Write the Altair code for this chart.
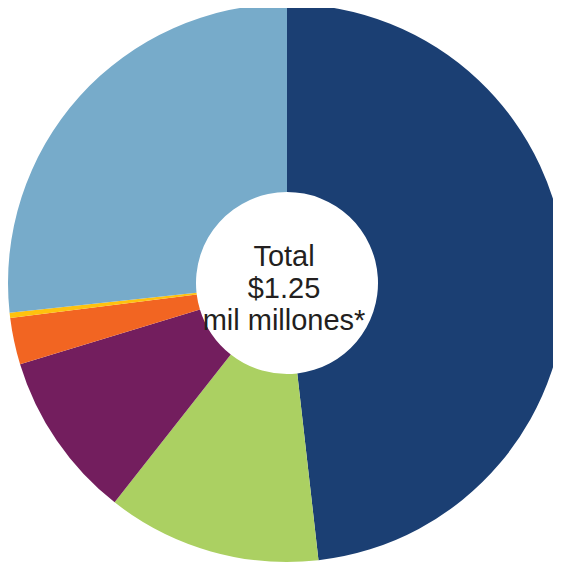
import altair as alt
import pandas as pd

categories = ["A", "B", "C", "D", "E", "F"]
shares = [48.2, 12.4, 9.7, 2.7, 0.3, 26.7]
colors = ["#1B3F73", "#ABD062", "#731E5E", "#F26522", "#FFC20E", "#77ABCA"]
center_lines = ["Total", "$1.25", "mil millones*"]

df = pd.DataFrame({"cat": categories, "share": shares, "order": list(range(len(categories)))})

pie = alt.Chart(df).mark_arc(radius=279, innerRadius=91).encode(
    theta=alt.Theta("share:Q", stack=True),
    color=alt.Color("cat:N", scale=alt.Scale(domain=categories, range=colors), legend=None),
    order=alt.Order("order:Q"),
    x=alt.value(279),
    y=alt.value(275),
)

txt_df = pd.DataFrame({"t": ["\n".join(center_lines)]})
text = alt.Chart(txt_df).mark_text(
    font="Liberation Sans Narrow, Liberation Sans, Arial, sans-serif",
    fontSize=29, lineHeight=32, lineBreak="\n", color="#231F20",
    align="center", baseline="alphabetic",
).encode(text="t:N", x=alt.value(276), y=alt.value(258))

chart = alt.layer(pie, text).properties(
    width=545, height=555,
    autosize=alt.AutoSizeParams(type="none"),
    padding={"left": 0, "top": 0, "right": 0, "bottom": 0},
).configure_view(stroke=None)

chart.save("out.html", embed_options={"renderer": "svg", "actions": False})
